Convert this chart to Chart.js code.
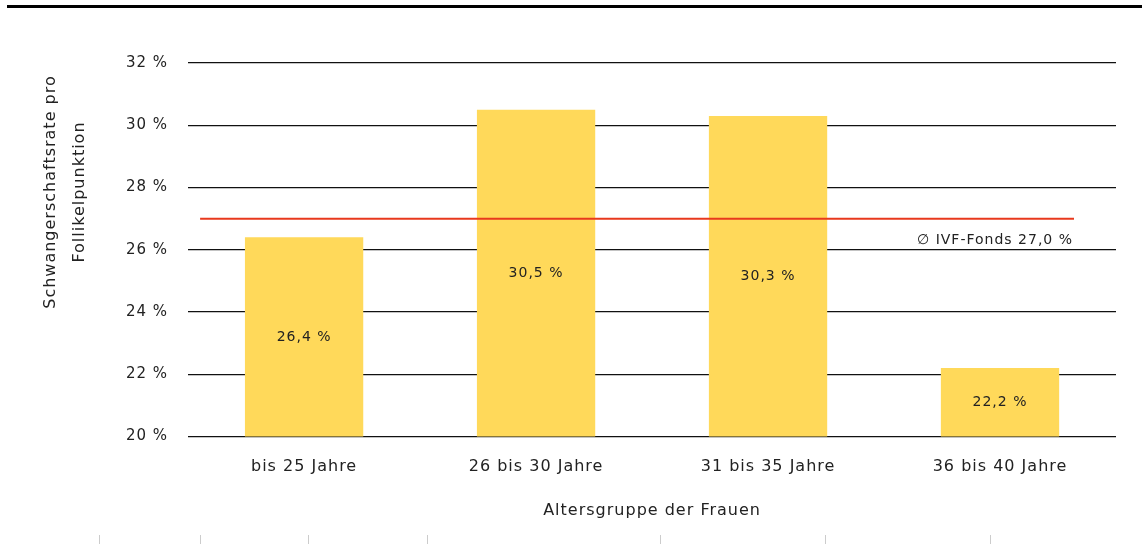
<!DOCTYPE html>
<html>
<head>
<meta charset="utf-8">
<script src="https://cdn.jsdelivr.net/npm/chart.js@4/dist/chart.umd.min.js"></script>
<style>
  html, body { margin: 0; padding: 0; background: #fff; }
  #wrap { position: relative; width: 1142px; height: 544px; }
  #topline { position: absolute; left: 7px; right: 0; top: 5px; height: 3px; background: #000; }
  .tick { position: absolute; top: 535px; width: 1px; height: 9px; background: #ccc; }
  canvas { position: absolute; left: 0; top: 0; }
</style>
</head>
<body>
<div id="wrap">
  <div id="topline"></div>
  <canvas id="chart" width="1142" height="544"></canvas>
</div>
<script>
// data
const categories = ['bis 25 Jahre', '26 bis 30 Jahre', '31 bis 35 Jahre', '36 bis 40 Jahre'];
const rates = [26.4, 30.5, 30.3, 22.2];
const avgRate = 27.0;
const avgLabel = '\u2205 IVF-Fonds 27,0 %';
const yTitle = ['Schwangerschaftsrate pro', 'Follikelpunktion'];
const footerTicks = [99, 200, 308, 427, 660, 825, 990];

footerTicks.forEach(x => {
  const d = document.createElement('div');
  d.className = 'tick';
  d.style.left = x + 'px';
  document.getElementById('wrap').appendChild(d);
});

const fmt = v => v.toFixed(1).replace('.', ',') + ' %';
const FONT = '"DejaVu Sans", sans-serif';

// the reference text is a bit spaced out
const spacing = {
  id: 'spacing',
  beforeLayout(chart) { chart.ctx.letterSpacing = '1px'; },
  beforeDraw(chart) { chart.ctx.letterSpacing = '1px'; }
};

// average line, value labels, y title
const overlay = {
  id: 'overlay',
  afterDatasetsDraw(chart) {
    const ctx = chart.ctx;
    const ys = chart.scales.y;
    const area = chart.chartArea;
    const y = ys.getPixelForValue(avgRate);
    ctx.save();
    ctx.fillStyle = '#222';
    ctx.font = '14px ' + FONT;
    ctx.textAlign = 'center';
    ctx.textBaseline = 'middle';
    chart.getDatasetMeta(0).data.forEach((bar, i) => {
      const top = ys.getPixelForValue(rates[i]);
      const base = ys.getPixelForValue(ys.min);
      ctx.fillText(fmt(rates[i]), bar.x, (top + base) / 2);
    });
    // average line
    ctx.strokeStyle = '#e8391d';
    ctx.lineWidth = 2;
    ctx.beginPath();
    ctx.moveTo(area.left + 12, y);
    ctx.lineTo(area.right - 42, y);
    ctx.stroke();
    ctx.textAlign = 'right';
    ctx.fillText(avgLabel, area.right - 43, y + 22);
    // y axis title
    ctx.font = '16px ' + FONT;
    ctx.textAlign = 'center';
    ctx.translate(0, 192);
    ctx.rotate(-Math.PI / 2);
    ctx.fillText(yTitle[0], 0, 51);
    ctx.fillText(yTitle[1], 0, 80);
    ctx.restore();
  }
};

new Chart(document.getElementById('chart').getContext('2d'), {
  type: 'bar',
  data: {
    labels: categories,
    datasets: [{
      data: rates,
      backgroundColor: '#ffd95a',
      barPercentage: 0.51,
      categoryPercentage: 1.0
    }]
  },
  options: {
    responsive: false,
    animation: false,
    layout: { padding: { top: 63, right: 26, left: 106, bottom: 20 } },
    plugins: { legend: { display: false }, tooltip: { enabled: false } },
    scales: {
      x: {
        grid: { display: false, drawTicks: false },
        border: { display: false },
        ticks: { color: '#222', font: { family: FONT, size: 16 }, padding: 21 },
        title: {
          display: true, text: 'Altersgruppe der Frauen', color: '#222',
          font: { family: FONT, size: 16 }, padding: { top: 3 }
        }
      },
      y: {
        min: 20, max: 32,
        grid: { color: '#111', lineWidth: 1.3, drawTicks: false },
        border: { display: false },
        ticks: {
          stepSize: 2, color: '#222', padding: 20,
          font: { family: FONT, size: 15 },
          callback: v => v + ' %'
        }
      }
    }
  },
  plugins: [spacing, overlay]
});
</script>
</body>
</html>
